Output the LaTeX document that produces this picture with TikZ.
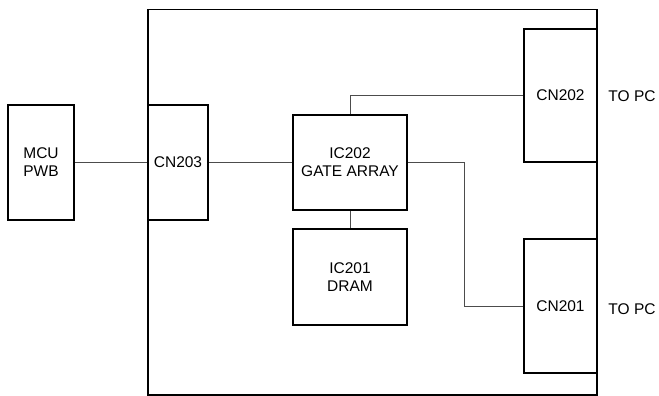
\documentclass[tikz,border=0pt]{standalone}
\usepackage{fontspec}
\setmainfont{Liberation Sans}
\usepackage{tikz}

\begin{document}
\begin{tikzpicture}[x=1pt, y=-1pt,
  box/.style={draw, line width=1.6pt, align=center, inner sep=0pt,
    font=\fontsize{15.5}{18}\selectfont},
  wire/.style={draw=black!70, line width=0.9pt},
  lbl/.style={font=\fontsize{15.5}{18}\selectfont}]
\useasboundingbox (0,0) rectangle (659,396);
% board outline
\draw[line width=1.6pt] (148,9.5) rectangle (597,395);
% boxes
\node[box, minimum width=66, minimum height=115] (mcu) at (41,162.5) {MCU\\PWB};
\node[box, minimum width=60, minimum height=115] (cn203) at (178,162.5) {CN203};
\node[box, minimum width=114, minimum height=95] (ic202) at (350,162.5) {IC202\\GATE ARRAY};
\node[box, minimum width=114, minimum height=96] (ic201) at (350,277) {IC201\\DRAM};
\node[box, minimum width=73, minimum height=133] (cn202) at (560.5,95.5) {CN202};
\node[box, minimum width=73, minimum height=134] (cn201) at (560.5,306) {CN201};
% outside labels
\node[lbl] (pcA) at (632,96) {TO PC};
\node[lbl] (pcB) at (632,309) {TO PC};
% wires
\draw[wire] (mcu.east) -- (cn203.west);
\draw[wire] (cn203.east) -- (ic202.west);
\draw[wire] (ic202.south) -- (ic201.north);
\draw[wire] (ic202.north) |- (cn202.west);
\coordinate (bend) at (464,162.5);
\draw[wire] (ic202.east) -- (bend) |- (cn201.west);
\end{tikzpicture}
\end{document}
